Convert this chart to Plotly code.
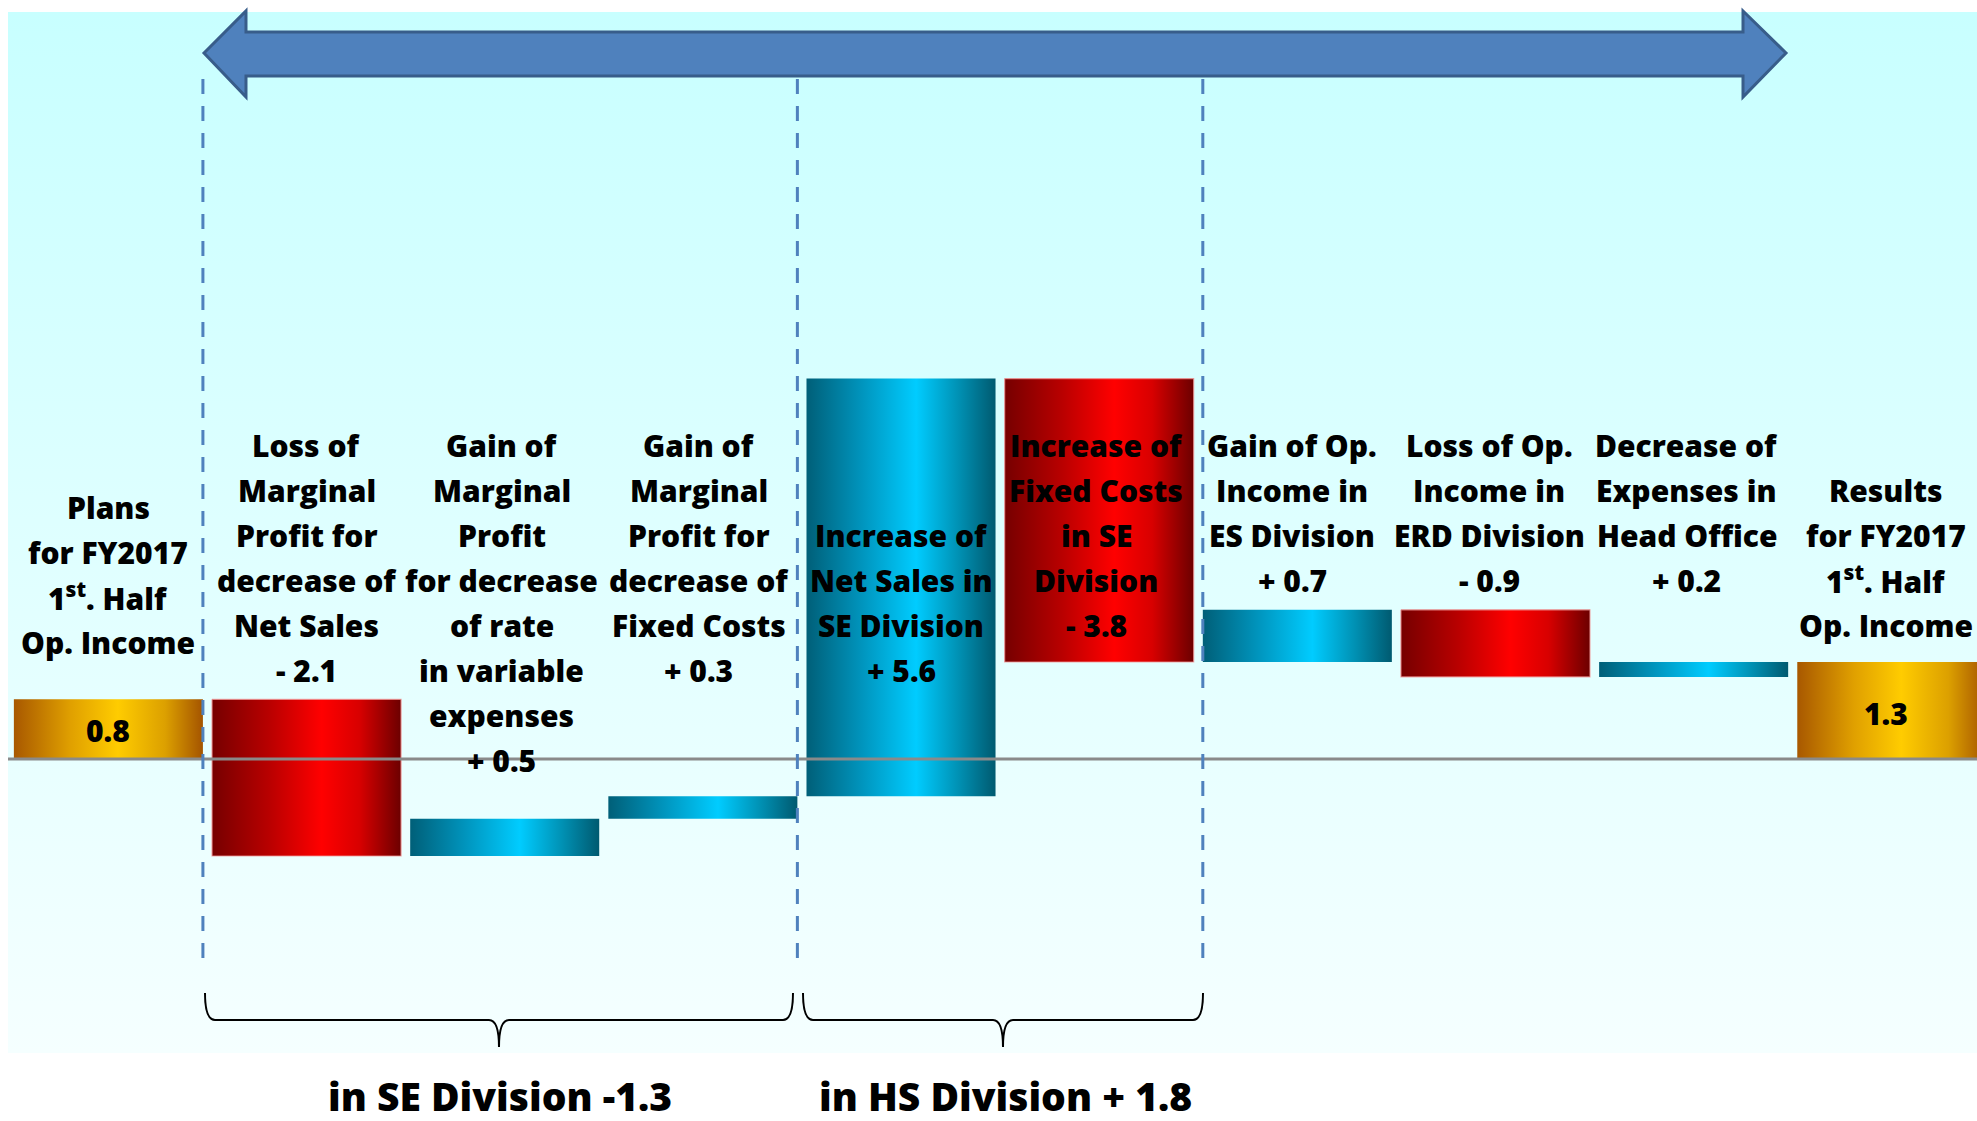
import plotly.graph_objects as go

W, H = 1977, 1121

# ---------------- data ----------------
values = [0.8, -2.1, 0.5, 0.3, 5.6, -3.8, 0.7, -0.9, 0.2, 1.3]
kinds = ["total", "delta", "delta", "delta", "delta", "delta", "delta", "delta", "delta", "total"]
label_lines = [
    ["Plans", "for FY2017", "1<sup>st</sup>. Half", "Op. Income"],
    ["Loss of", "Marginal", "Profit for", "decrease of", "Net Sales", "- 2.1"],
    ["Gain of", "Marginal", "Profit", "for decrease", "of rate", "in variable", "expenses", "+ 0.5"],
    ["Gain of", "Marginal", "Profit for", "decrease of", "Fixed Costs", "+ 0.3"],
    ["Increase of", "Net Sales in", "SE Division", "+ 5.6"],
    ["Increase of", "Fixed Costs", "in SE", "Division", "- 3.8"],
    ["Gain of Op.", "Income in", "ES Division", "+ 0.7"],
    ["Loss of Op.", "Income in", "ERD Division", "- 0.9"],
    ["Decrease of", "Expenses in", "Head Office", "+ 0.2"],
    ["Results", "for FY2017", "1<sup>st</sup>. Half", "Op. Income"],
]
total_texts = {0: "0.8", 9: "1.3"}
group_labels = ["in SE Division -1.3", "in HS Division + 1.8"]

# ---------------- layout helpers ----------------
XMIN, XMAX = -0.547, 9.43
PX_PER_UNIT = 74.6
ZERO_PX = 759
YMAX = ZERO_PX / PX_PER_UNIT
YMIN = -(H - ZERO_PX) / PX_PER_UNIT
BAR_W = 0.954


def px2x(px):
    return XMIN + px / W * (XMAX - XMIN)


def py2y(py):
    return YMAX - py / H * (YMAX - YMIN)


def pxp(px):  # pixel -> paper x
    return px / W


def pyp(py):  # pixel -> paper y
    return 1 - py / H


RED = [[0, "#760000"], [0.3, "#b80000"], [0.58, "#ff0000"], [0.78, "#d80000"], [1, "#6c0000"]]
CYAN = [[0, "#005f78"], [0.3, "#0096bf"], [0.58, "#00ccff"], [0.8, "#0092b5"], [1, "#005a70"]]
GOLD = [[0, "#a85800"], [0.3, "#e0a000"], [0.55, "#ffcc00"], [0.8, "#dca000"], [1, "#a45400"]]

fig = go.Figure()

# background panel with vertical gradient
bx0, bx1 = px2x(8), px2x(W)
by0, by1 = py2y(1053), py2y(12)
fig.add_trace(go.Scatter(
    x=[bx0, bx1, bx1, bx0, bx0], y=[by0, by0, by1, by1, by0],
    mode="lines", line=dict(width=0), fill="toself",
    fillgradient=dict(type="vertical", colorscale=[[0, "#f5ffff"], [1, "#c8ffff"]]),
    hoverinfo="skip", showlegend=False,
))

# waterfall bars
running = 0.0
for i, (v, k) in enumerate(zip(values, kinds)):
    if k == "total":
        base, top = 0.0, v
        running = v
        cs = GOLD
        lw, lc = 0, "rgba(0,0,0,0)"
    else:
        base, top = running, running + v
        running += v
        cs = CYAN if v > 0 else RED
        lw, lc = (1.2, "rgba(240,150,150,0.8)") if v < 0 else (0, "rgba(0,0,0,0)")
    x0, x1 = i - BAR_W / 2, i + BAR_W / 2
    fig.add_trace(go.Scatter(
        x=[x0, x1, x1, x0, x0], y=[base, base, top, top, base],
        mode="lines", line=dict(width=lw, color=lc), fill="toself",
        fillgradient=dict(type="horizontal", colorscale=cs),
        hoverinfo="skip", showlegend=False,
    ))

shapes = []
# zero line
shapes.append(dict(type="line", xref="paper", yref="y", x0=pxp(8), x1=1, y0=0, y1=0,
                   line=dict(color="#8a8a8a", width=3), layer="above"))
# dashed separators
for sx in [0 + BAR_W / 2, 3 + BAR_W / 2, 6 - BAR_W / 2]:
    shapes.append(dict(type="line", xref="x", yref="paper", x0=sx, x1=sx,
                       y0=pyp(958), y1=pyp(75),
                       line=dict(color="#4f81bd", width=3, dash="15px,12px"), layer="above"))

# double-headed arrow
pts = [(204, 53), (246, 11), (246, 32), (1743, 32), (1743, 11), (1786, 53),
       (1743, 97), (1743, 76), (246, 76), (246, 97)]
path = "M" + " L".join(f"{pxp(a):.5f},{pyp(b):.5f}" for a, b in pts) + " Z"
shapes.append(dict(type="path", xref="paper", yref="paper", path=path,
                   fillcolor="#4f81bd", line=dict(color="#385d8a", width=3), layer="above"))


# braces
def brace(xl, xr, ytop, ymid, ytip):
    xm = (xl + xr) / 2
    r = 10
    P = lambda a, b: f"{pxp(a):.5f},{pyp(b):.5f}"
    return ("M" + P(xl, ytop) + " Q" + P(xl, ymid) + " " + P(xl + r, ymid) +
            " L" + P(xm - r, ymid) + " Q" + P(xm, ymid) + " " + P(xm, ytip) +
            " Q" + P(xm, ymid) + " " + P(xm + r, ymid) +
            " L" + P(xr - r, ymid) + " Q" + P(xr, ymid) + " " + P(xr, ytop))


for (xl, xr) in [(205, 793), (803, 1203)]:
    shapes.append(dict(type="path", xref="paper", yref="paper",
                       path=brace(xl, xr, 993, 1020, 1047),
                       line=dict(color="#000000", width=2), layer="above"))

# annotations
annotations = []
LABEL_FONT = dict(family="Open Sans", size=30, color="#000000", weight=800)
first_line_px = [507, 445, 445, 445, 535, 445, 445, 445, 445, 490]
label_xshift = [0, 0, -3, -4, 0, -3, -5, -6, -7, -6]
LINE_PITCH = 45
for i, lines in enumerate(label_lines):
    for k, t in enumerate(lines):
        annotations.append(dict(x=i, y=py2y(first_line_px[i] + k * LINE_PITCH), xref="x", yref="y",
                                text=t, showarrow=False, xanchor="center", yanchor="middle",
                                xshift=label_xshift[i], font=LABEL_FONT))
total_text_px = {0: 730, 9: 713}
for i, t in total_texts.items():
    annotations.append(dict(x=i, y=py2y(total_text_px[i]), xref="x", yref="y", text=t,
                            showarrow=False, xanchor="center", yanchor="middle",
                            xshift=label_xshift[i], font=LABEL_FONT))
for t, cx in zip(group_labels, [500, 1005]):
    annotations.append(dict(x=pxp(cx), y=pyp(1095), xref="paper", yref="paper", text=t,
                            showarrow=False, xanchor="center", yanchor="middle",
                            font=dict(family="Open Sans", size=39, color="#000000", weight=800)))

fig.update_layout(
    width=W, height=H,
    margin=dict(l=0, r=0, t=0, b=0),
    paper_bgcolor="#ffffff", plot_bgcolor="rgba(0,0,0,0)",
    xaxis=dict(range=[XMIN, XMAX], visible=False, fixedrange=True),
    yaxis=dict(range=[YMIN, YMAX], visible=False, fixedrange=True),
    shapes=shapes, annotations=annotations, showlegend=False,
)

fig.write_html("out.html", config={"displayModeBar": False},
               post_script="document.body.style.margin='0';document.body.style.overflow='hidden';")
